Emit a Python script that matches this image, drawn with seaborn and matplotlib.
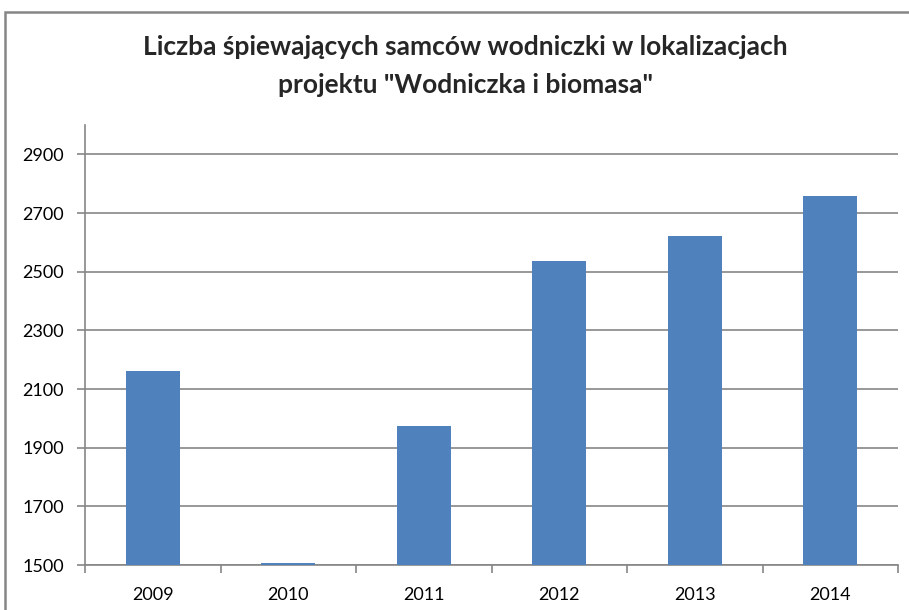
import matplotlib
matplotlib.use("Agg")
import matplotlib.pyplot as plt
import seaborn as sns
import pandas as pd
from matplotlib.patches import Rectangle

# data
years = ["2009", "2010", "2011", "2012", "2013", "2014"]
males = [2163, 1506, 1975, 2538, 2620, 2757]
y_ticks = [1500, 1700, 1900, 2100, 2300, 2500, 2700, 2900]

BAR_COLOR = "#4F81BD"
GRID_COLOR = "#868686"

sns.set_theme(style="white")
plt.rcParams['font.family'] = ['Lato', 'DejaVu Sans']

df = pd.DataFrame({"rok": years, "samce": males})

fig = plt.figure(figsize=(9.09, 6.10), dpi=100)
ax = fig.add_axes([85 / 909, 1 - 565 / 610, (898 - 85) / 909, (565 - 125) / 610])

# outer chart frame (Excel style), cut by the image edge
fig.patches.append(Rectangle((5 / 909, -0.1), 1.2, (610 - 12) / 610 + 0.1,
                             transform=fig.transFigure, fill=False,
                             edgecolor=GRID_COLOR, linewidth=1.8))

sns.barplot(data=df, x="rok", y="samce", color=BAR_COLOR, width=0.4,
            saturation=1, linewidth=0, ax=ax, zorder=3)

ax.set_ylim(1500, 3000)
ax.set_xlim(-0.5, len(years) - 0.5)
ax.set_yticks(y_ticks)
ax.set_yticklabels([str(t) for t in y_ticks])
ax.set_xticks(range(len(years)))
ax.set_xticklabels(years)
ax.set_xticks([i - 0.5 for i in range(len(years) + 1)], minor=True)

ax.yaxis.grid(True, color=GRID_COLOR, linewidth=1.2)
ax.set_axisbelow(True)
for side in ["top", "right"]:
    ax.spines[side].set_visible(False)
ax.spines["left"].set_color(GRID_COLOR)
ax.spines["bottom"].set_color(GRID_COLOR)
ax.spines["left"].set_linewidth(1.2)
ax.spines["bottom"].set_linewidth(1.2)

ax.tick_params(axis="y", which="major", left=True, length=6, width=1.2,
               color=GRID_COLOR, labelsize=13, pad=9, labelcolor="black")
ax.tick_params(axis="x", which="major", bottom=False, labelsize=13, pad=10,
               labelcolor="black")
ax.tick_params(axis="x", which="minor", bottom=True, length=6, width=1.2,
               color=GRID_COLOR)

ax.set_xlabel("")
ax.set_ylabel("")

fig.text(465 / 909, 1 - 47 / 610,
         "Liczba śpiewających samców wodniczki w lokalizacjach",
         ha="center", va="center", fontsize=19, fontweight="bold")
fig.text(465 / 909, 1 - 85 / 610,
         "projektu \"Wodniczka i biomasa\"",
         ha="center", va="center", fontsize=19, fontweight="bold")

fig.savefig("out.png", dpi=100)
